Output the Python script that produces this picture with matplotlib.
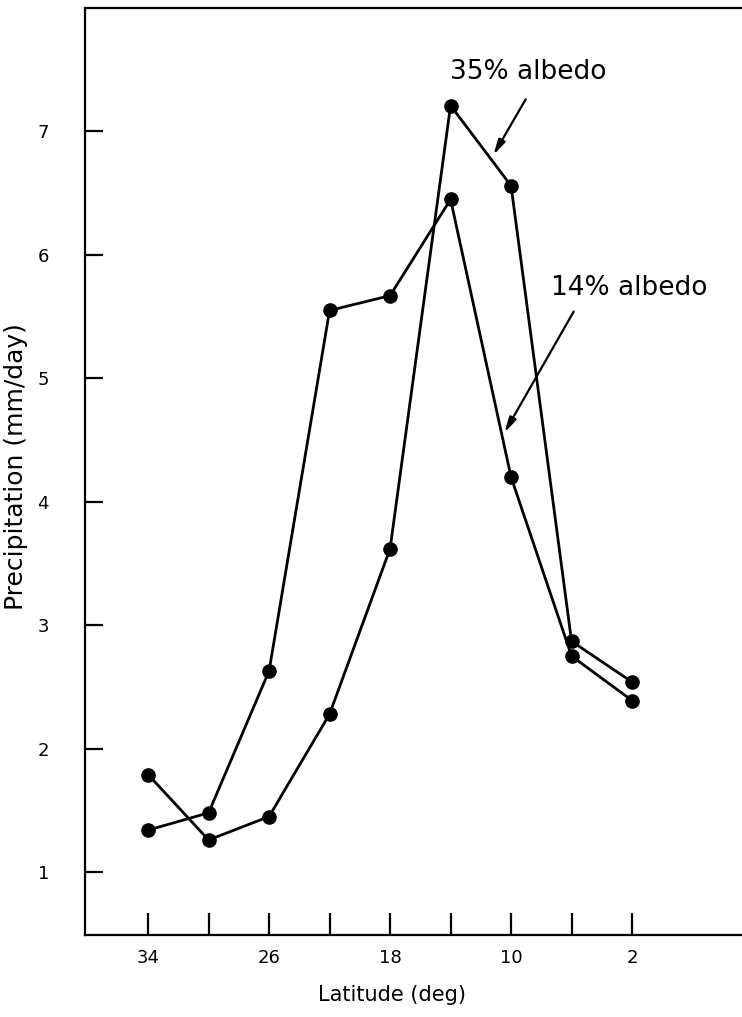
"""Precipitation vs latitude for two surface albedos."""

import matplotlib
matplotlib.use("Agg")
import matplotlib.pyplot as plt

latitude = [34, 30, 26, 22, 18, 14, 10, 6, 2]
precip_14 = [1.34, 1.48, 2.63, 5.55, 5.67, 6.45, 4.20, 2.75, 2.39]
precip_35 = [1.79, 1.26, 1.45, 2.28, 3.62, 7.21, 6.56, 2.87, 2.54]

xticks = [34, 30, 26, 22, 18, 14, 10, 6, 2]
xtick_labels = ["34", "", "26", "", "18", "", "10", "", "2"]
yticks = [1, 2, 3, 4, 5, 6, 7]

plt.rcParams['font.family'] = 'DejaVu Sans'

fig = plt.figure(figsize=(7.42, 10.17), dpi=100)
ax = fig.add_axes([0.1146, 0.0806, 0.8854, 0.9115])

ax.plot(latitude, precip_14, color="black", lw=2.0, marker="o", ms=9.5)
ax.plot(latitude, precip_35, color="black", lw=2.0, marker="o", ms=9.5)

ax.set_xlim(38.17, -5.27)
ax.set_ylim(0.49, 8.0)

ax.set_xticks(xticks)
ax.set_xticklabels(xtick_labels)
ax.set_yticks(yticks)
ax.tick_params(axis="x", direction="in", length=16, width=1.6, labelsize=13, pad=10)
ax.tick_params(axis="y", direction="in", length=13, width=1.6, labelsize=13, pad=26)

ax.spines["right"].set_visible(False)
for s in ["left", "top", "bottom"]:
    ax.spines[s].set_linewidth(1.6)

ax.set_xlabel("Latitude (deg)", fontsize=15)
ax.xaxis.set_label_coords(0.467, -0.054)
ax.set_ylabel("Precipitation (mm/day)", fontsize=18)
ax.yaxis.set_label_coords(-0.087, 0.505)

arrow = dict(arrowstyle="-|>,head_length=0.9,head_width=0.22", color="black", lw=1.6)
ax.text(8.88, 7.48, "35% albedo", fontsize=19, ha="center", va="center")
ax.annotate("", xy=(11.26, 6.79), xytext=(8.94, 7.28), arrowprops=arrow)
ax.text(2.2, 5.735, "14% albedo", fontsize=19, ha="center", va="center")
ax.annotate("", xy=(10.53, 4.54), xytext=(5.77, 5.56), arrowprops=arrow)

plt.savefig("out.png", dpi=100)
